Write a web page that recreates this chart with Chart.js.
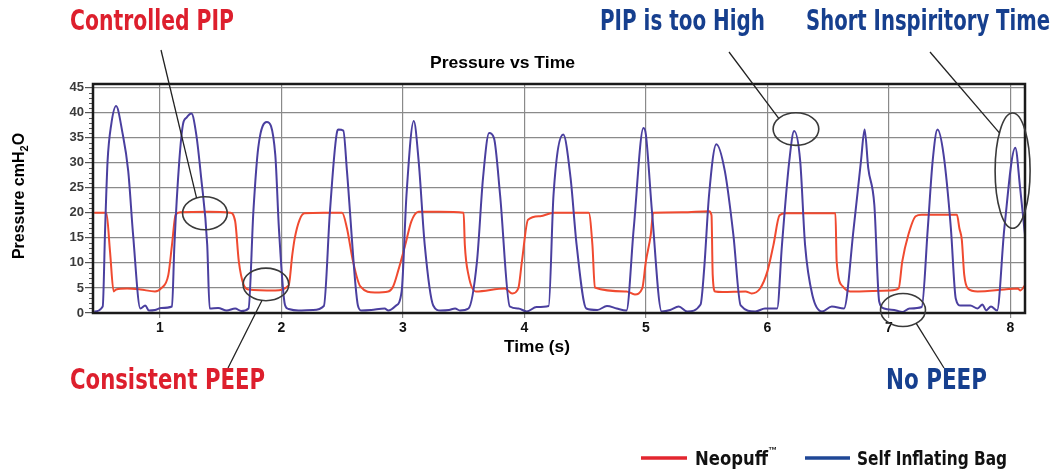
<!DOCTYPE html>
<html lang="en">
<head>
<meta charset="UTF-8">
<title>Pressure vs Time</title>
<script src="https://cdn.jsdelivr.net/npm/chart.js"></script>
<style>
  body { margin: 0; background: #fff; }
  canvas { display: block; }
</style>
</head>
<body>
<canvas id="chart" width="1055" height="471"></canvas>
<script>
  // values (time in s, pressure in cmH2O)
  const neoTime = [0.46, 0.56, 0.59, 0.62, 0.64, 0.73, 0.84, 0.96, 1.01, 1.07, 1.10, 1.13, 1.17, 1.40, 1.58, 1.62, 1.65, 1.69, 1.73,
    1.95, 2.06, 2.09, 2.11, 2.15, 2.19, 2.35, 2.50, 2.54, 2.59, 2.65, 2.77, 2.88, 2.92, 2.96, 3.02, 3.07, 3.13, 3.30, 3.50,
    3.51, 3.54, 3.60, 3.84, 3.90, 3.95, 3.98, 4.03, 4.13, 4.24, 4.53, 4.56, 4.58, 4.84, 4.91, 4.97, 5.00, 5.04, 5.06, 5.30,
    5.52, 5.54, 5.55, 5.57, 5.63, 5.82, 5.87, 5.94, 6.00, 6.05, 6.10, 6.15, 6.56, 6.57, 6.62, 6.68, 7.01, 7.08, 7.11, 7.16,
    7.22, 7.27, 7.56, 7.58, 7.60, 7.62, 7.65, 7.73, 7.95, 8.06, 8.08, 8.12];
  const neoPressure = [20, 20, 12.3, 4.3, 4.7, 4.9, 4.7, 4.3, 4.9, 7.6, 13.6, 19.6, 20.1, 20.2, 20.0, 18.3, 10.3, 5.6, 4.7,
    4.5, 5.5, 11.6, 14.9, 18.6, 19.9, 20.0, 20.0, 16.9, 10.3, 5.3, 4.1, 4.3, 5.3, 8.3, 13.6, 18.3, 20.2, 20.2, 20.0,
    13.6, 7.6, 4.3, 4.9, 3.9, 4.9, 10.3, 18.6, 19.3, 20.0, 20.0, 13.6, 5.1, 4.3, 3.7, 4.9, 10.3, 15.6, 20.0, 20.1,
    20.3, 19.5, 7.6, 4.3, 4.2, 4.3, 3.9, 4.9, 8.3, 13.6, 19.5, 19.9, 19.9, 10.3, 5.3, 4.3, 4.5, 4.9, 10.3, 15.6,
    19.3, 19.6, 19.6, 16.9, 14.6, 7.6, 4.9, 4.3, 4.7, 4.9, 4.5, 5.5];

  const bagTime = [0.46, 0.53, 0.55, 0.57, 0.60, 0.64, 0.69, 0.74, 0.78, 0.84, 0.88, 0.91, 0.96, 1.01, 1.10, 1.12, 1.16, 1.19,
    1.22, 1.26, 1.30, 1.34, 1.39, 1.41, 1.48, 1.55, 1.62, 1.67, 1.73, 1.77, 1.81, 1.88, 1.95, 1.98, 2.03, 2.06, 2.14, 2.26,
    2.35, 2.40, 2.46, 2.47, 2.51, 2.54, 2.61, 2.63, 2.66, 2.74, 2.85, 2.88, 2.94, 2.99, 3.03, 3.09, 3.13, 3.18, 3.25, 3.31,
    3.38, 3.43, 3.47, 3.54, 3.61, 3.66, 3.71, 3.75, 3.80, 3.88, 3.95, 4.02, 4.10, 4.20, 4.24, 4.32, 4.38, 4.43, 4.51, 4.60,
    4.68, 4.76, 4.84, 4.90, 4.98, 5.00, 5.05, 5.13, 5.20, 5.27, 5.34, 5.45, 5.48, 5.52, 5.58, 5.65, 5.72, 5.78, 5.90, 5.98,
    6.08, 6.12, 6.18, 6.22, 6.27, 6.31, 6.37, 6.45, 6.53, 6.63, 6.71, 6.77, 6.80, 6.83, 6.88, 6.92, 6.96, 7.06, 7.11, 7.17,
    7.27, 7.32, 7.36, 7.40, 7.45, 7.51, 7.55, 7.59, 7.67, 7.73, 7.77, 7.80, 7.84, 7.89, 7.95, 8.04, 8.08, 8.12];
  const bagPressure = [0.3, 1.3, 17, 30.3, 37.6, 41.3, 36.3, 28.3, 15.6, 0.9, 1.5, 0.5, 0.6, 1.0, 1.3, 13.6, 30.3, 37.6,
    39.0, 39.8, 35.6, 27.0, 13.6, 0.9, 1.0, 0.5, 0.9, 0.4, 0.9, 20.3, 33.0, 38.1, 31.6, 16.9, 1.6, 0.8, 0.5, 0.6,
    1.4, 20.3, 36.3, 36.6, 36.4, 28.3, 5.6, 1.5, 0.5, 0.6, 0.9, 0.5, 1.4, 4.3, 23.6, 38.3, 30.3, 13.6, 1.5, 0.5,
    0.6, 0.9, 0.5, 0.9, 10.3, 27.0, 35.9, 34.9, 23.6, 1.3, 0.9, 0.3, 1.2, 1.4, 23.6, 35.6, 27.0, 13.6, 0.9, 0.6,
    1.4, 0.9, 0.5, 16.9, 36.9, 35.6, 20.3, 0.3, 0.6, 1.3, 0.3, 1.7, 8.9, 23.6, 33.7, 28.3, 15.6, 1.5, 0.3, 0.9,
    0.9, 13.6, 30.3, 36.3, 30.3, 13.6, 3.6, 0.3, 1.3, 0.9, 16.9, 30.3, 36.6, 28.9, 21.6, 2.3, 0.9, 0.5, 0.2, 0.9,
    1.2, 16.9, 30.3, 36.6, 31.6, 16.9, 2.9, 1.5, 1.5, 0.9, 1.7, 0.5, 1.3, 0.5, 16.9, 33.0, 24.9, 15.6];

  const xTicks = [1, 2, 3, 4, 5, 6, 7, 8];
  const yTicks = [0, 5, 10, 15, 20, 25, 30, 35, 40, 45];
  const seriesNames = ['Neopuff', 'Self Inflating Bag'];

  const NARROW = '"Liberation Sans Narrow", "Arial Narrow", "DejaVu Sans Condensed", sans-serif';
  const SANS = '"Liberation Sans", Arial, sans-serif';
  const RED = '#dd1f2d';
  const NAVY = '#163f8e';

  // callouts: ellipse centre/radii in data units, label in canvas px
  const callouts = [
    { text: 'Controlled PIP', color: RED, tx: 70, ty: 22, tw: 164, cx: 1.371, cy: 19.9, rx: 0.184, ry: 3.3, ang: -112, ox: 161, oy: 50 },
    { text: 'Consistent PEEP', color: RED, tx: 70, ty: 381, tw: 195, cx: 1.873, cy: 5.7, rx: 0.188, ry: 3.25, ang: 100, ox: 228, oy: 368 },
    { text: 'PIP is too High', color: NAVY, tx: 600, ty: 22, tw: 165, cx: 6.235, cy: 36.7, rx: 0.188, ry: 3.25, ang: -139, ox: 729, oy: 52 },
    { text: 'Short Inspiritory Time', color: NAVY, tx: 806, ty: 22, tw: 244, cx: 8.018, cy: 28.4, rx: 0.144, ry: 11.5, ang: -139, ox: 930, oy: 52 },
    { text: 'No PEEP', color: NAVY, tx: 886, ty: 381, tw: 101, cx: 7.116, cy: 0.6, rx: 0.185, ry: 3.3, ang: 54, ox: 944, oy: 368 }
  ];

  function fitText(ctx, text, x, y, w, font) {
    ctx.font = font;
    const m = ctx.measureText(text).width;
    ctx.save();
    ctx.translate(x, y);
    ctx.scale(w / m, 1);
    ctx.fillText(text, 0, 0);
    ctx.restore();
  }

  const decor = {
    id: 'decor',
    afterDraw(chart) {
      const ctx = chart.ctx;
      const { left, right, top, bottom } = chart.chartArea;
      const xs = chart.scales.x, ys = chart.scales.y;
      ctx.save();

      // minor ticks on the y axis
      ctx.strokeStyle = '#555';
      ctx.lineWidth = 1;
      for (let v = 1; v < 46; v++) {
        if (v % 5 === 0) continue;
        const py = Math.round(ys.getPixelForValue(v)) + 0.5;
        ctx.beginPath();
        ctx.moveTo(left - 4, py);
        ctx.lineTo(left, py);
        ctx.stroke();
      }

      // frame
      ctx.strokeStyle = '#1a1a1a';
      ctx.lineWidth = 2.5;
      ctx.strokeRect(left, top, right - left, bottom - top);

      ctx.fillStyle = '#000';
      ctx.textBaseline = 'middle';
      ctx.textAlign = 'left';
      fitText(ctx, 'Pressure vs Time', 430, 63, 145, 'bold 17px ' + SANS);
      fitText(ctx, 'Time (s)', 504, 347, 66, 'bold 17px ' + SANS);

      // y title with subscript
      ctx.save();
      ctx.translate(20, 196);
      ctx.rotate(-Math.PI / 2);
      const big = 'bold 16px ' + SANS, small = 'bold 11px ' + SANS;
      ctx.font = big;
      const w1 = ctx.measureText('Pressure cmH').width;
      const w3 = ctx.measureText('O').width;
      ctx.font = small;
      const w2 = ctx.measureText('2').width;
      let x0 = -(w1 + w2 + w3) / 2;
      ctx.font = big;
      ctx.fillText('Pressure cmH', x0, 0);
      ctx.font = small;
      ctx.fillText('2', x0 + w1, 5);
      ctx.font = big;
      ctx.fillText('O', x0 + w1 + w2, 0);
      ctx.restore();

      // callouts
      callouts.forEach(c => {
        const px = xs.getPixelForValue(c.cx), py = ys.getPixelForValue(c.cy);
        const rxp = xs.getPixelForValue(c.cx + c.rx) - px;
        const ryp = py - ys.getPixelForValue(c.cy + c.ry);
        ctx.strokeStyle = '#3a3a3a';
        ctx.lineWidth = 1.6;
        ctx.beginPath();
        ctx.ellipse(px, py, rxp, ryp, 0, 0, Math.PI * 2);
        ctx.stroke();
        const a = c.ang * Math.PI / 180;
        ctx.strokeStyle = '#222';
        ctx.lineWidth = 1.3;
        ctx.beginPath();
        ctx.moveTo(px + rxp * Math.cos(a), py + ryp * Math.sin(a));
        ctx.lineTo(c.ox, c.oy);
        ctx.stroke();
        ctx.fillStyle = c.color;
        fitText(ctx, c.text, c.tx, c.ty, c.tw, 'bold 29px ' + NARROW);
      });

      // legend
      ctx.lineWidth = 3.5;
      ctx.strokeStyle = '#e3262f';
      ctx.beginPath(); ctx.moveTo(641, 458); ctx.lineTo(687, 458); ctx.stroke();
      ctx.strokeStyle = '#1f4796';
      ctx.beginPath(); ctx.moveTo(805, 458); ctx.lineTo(850, 458); ctx.stroke();
      ctx.fillStyle = '#111';
      fitText(ctx, seriesNames[0], 695, 460, 73, 'bold 20px ' + NARROW);
      fitText(ctx, '™', 768, 451, 9, 'bold 9px ' + SANS);
      fitText(ctx, seriesNames[1], 857, 460, 150, 'bold 20px ' + NARROW);

      ctx.restore();
    }
  };

  const toPoints = (ts, vs) => ts.map((t, i) => ({ x: t, y: vs[i] }));

  new Chart(document.getElementById('chart'), {
    type: 'line',
    data: {
      datasets: [
        {
          label: seriesNames[0],
          data: toPoints(neoTime, neoPressure),
          borderColor: '#f04a30',
          borderWidth: 2,
          pointRadius: 0,
          cubicInterpolationMode: 'monotone',
          order: 2
        },
        {
          label: seriesNames[1],
          data: toPoints(bagTime, bagPressure),
          borderColor: '#4a3f9f',
          borderWidth: 2,
          pointRadius: 0,
          cubicInterpolationMode: 'monotone',
          order: 1
        }
      ]
    },
    options: {
      responsive: false,
      animation: false,
      layout: { padding: { top: 84, left: 0, right: 30, bottom: 108 } },
      plugins: {
        legend: { display: false },
        title: { display: false },
        tooltip: { enabled: false }
      },
      scales: {
        x: {
          type: 'linear',
          min: 0.45,
          max: 8.12,
          afterBuildTicks: s => { s.ticks = xTicks.map(v => ({ value: v })); },
          afterFit: s => { s.height = 50; },
          grid: { color: '#8a8a8a', lineWidth: 1.2, tickLength: 5, tickColor: '#8a8a8a' },
          border: { display: false },
          ticks: { color: '#111', padding: 2, font: { family: SANS, size: 14, weight: 'bold' } }
        },
        y: {
          min: 0,
          max: 45.7,
          afterBuildTicks: s => { s.ticks = yTicks.map(v => ({ value: v })); },
          afterFit: s => { s.width = 93; },
          grid: { color: '#8a8a8a', lineWidth: 1.2, tickLength: 8, tickColor: '#555' },
          border: { display: false },
          ticks: { color: '#3a3a3a', padding: 1, font: { family: SANS, size: 13, weight: 'bold' } }
        }
      }
    },
    plugins: [decor]
  });
</script>
</body>
</html>
